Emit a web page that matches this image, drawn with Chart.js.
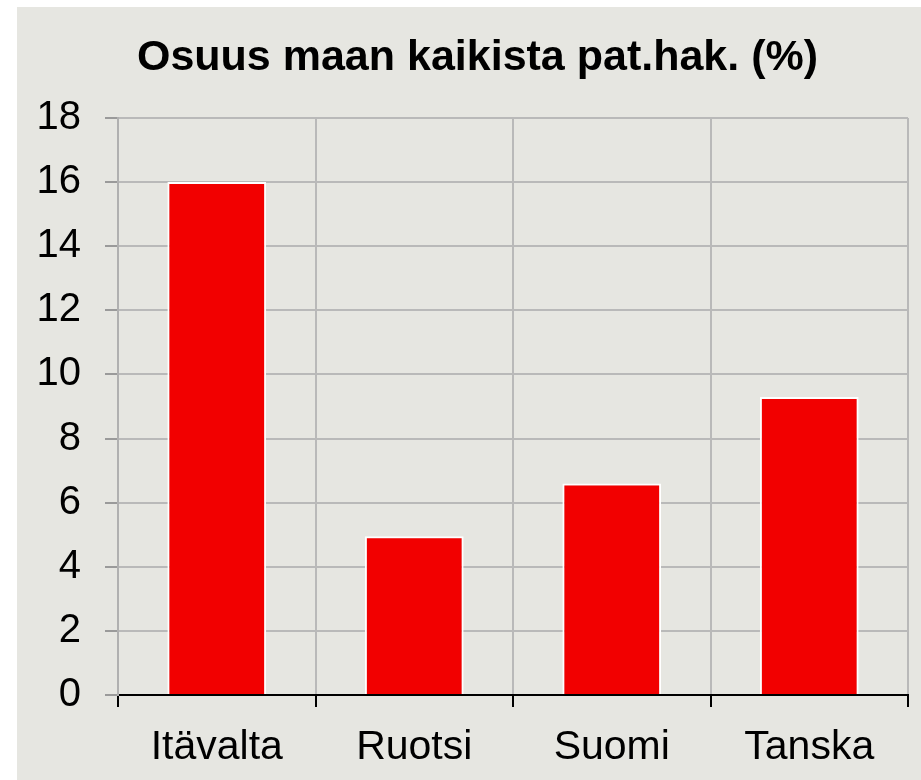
<!DOCTYPE html>
<html>
<head>
<meta charset="utf-8">
<script src="https://cdn.jsdelivr.net/npm/chart.js@4/dist/chart.umd.min.js"></script>
<style>
    html, body { margin: 0; padding: 0; background: #ffffff; }
    #wrap {
        position: absolute;
        left: 17px;
        top: 7px;
        width: 904px;
        height: 773px;
        background: #e6e6e1;
    }
</style>
</head>
<body>
<div id="wrap"><canvas id="chart" width="904" height="773"></canvas></div>
<script>
(function() {
    'use strict';

    var countries = ['Itävalta', 'Ruotsi', 'Suomi', 'Tanska'];
    var shares = [16.0, 4.95, 6.6, 9.3];
    var yTicks = [0, 2, 4, 6, 8, 10, 12, 14, 16, 18];
    var titleText = 'Osuus maan kaikista pat.hak. (%)';

    var font = '"Liberation Sans", Arial, sans-serif';

    new Chart(document.getElementById('chart'), {
        type: 'bar',
        data: {
            labels: countries,
            datasets: [{
                data: shares,
                backgroundColor: '#f20000',
                borderColor: '#ffffff',
                borderWidth: 2,
                categoryPercentage: 1.0,
                barPercentage: 0.5
            }]
        },
        options: {
            responsive: false,
            animation: false,
            // title is centred between the paddings; right gap comes from a blank axis
            layout: { padding: { left: 17, right: 0, top: 0, bottom: 0 } },
            plugins: {
                legend: { display: false },
                tooltip: { enabled: false },
                title: {
                    display: true,
                    text: titleText,
                    color: '#000000',
                    font: { family: font, size: 43, weight: 'bold' },
                    padding: { top: 25, bottom: 34.4 }
                }
            },
            scales: {
                x: {
                    grid: {
                        offset: true,
                        color: '#b9b9b9',
                        lineWidth: 2,
                        tickColor: '#000000',
                        tickLength: 12,
                        tickWidth: 2
                    },
                    border: { color: '#000000', width: 2 },
                    ticks: {
                        color: '#000000',
                        font: { family: font, size: 41 },
                        padding: 16,
                        maxRotation: 0
                    },
                    afterFit: function(scale) { scale.height = 85; }
                },
                y: {
                    min: 0,
                    max: 18,
                    afterBuildTicks: function(scale) {
                        scale.ticks = yTicks.map(function(v) { return { value: v }; });
                    },
                    grid: {
                        color: '#b9b9b9',
                        lineWidth: 2,
                        tickColor: '#9a9a9a',
                        tickLength: 13
                    },
                    border: { color: '#b0b0b0', width: 2 },
                    ticks: {
                        color: '#000000',
                        font: { family: font, size: 40 },
                        padding: 24
                    },
                    afterFit: function(scale) { scale.width = 84; }
                },
                spacer: {
                    position: 'right',
                    min: 0,
                    max: 18,
                    grid: { display: false },
                    border: { display: false },
                    ticks: { display: false },
                    afterFit: function(scale) { scale.width = 13; }
                }
            }
        }
    });
})();
</script>
</body>
</html>
